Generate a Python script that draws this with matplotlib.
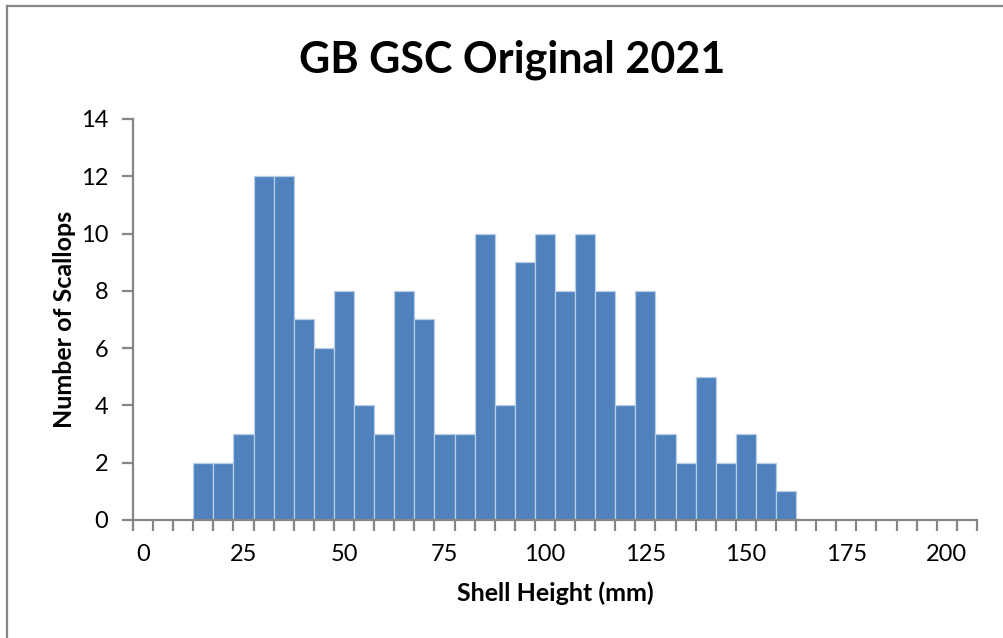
import numpy as np
import matplotlib
matplotlib.use('Agg')
import matplotlib.pyplot as plt
from matplotlib.lines import Line2D

## __DATA__________________________
shell_height = [15, 20, 25, 30, 35, 40, 45, 50, 55, 60, 65, 70, 75, 80, 85,
                90, 95, 100, 105, 110, 115, 120, 125, 130, 135, 140, 145, 150, 155, 160]
n_scallops = [2, 2, 3, 12, 12, 7, 6, 8, 4, 3, 8, 7, 3, 3, 10,
              4, 9, 10, 8, 10, 8, 4, 8, 3, 2, 5, 2, 3, 2, 1]
xtick_labels = [0, 25, 50, 75, 100, 125, 150, 175, 200]
ytick_labels = [0, 2, 4, 6, 8, 10, 12, 14]

plt.rcParams['font.family'] = ['Lato', 'DejaVu Sans']
axis_gray = '#868686'

fig = plt.figure(figsize=(10.04, 6.38), dpi=100)
ax = fig.add_axes([0.1325, 0.185, 0.8405, 0.6285])

ax.bar(shell_height, n_scallops, width=5, color='#4F81BD',
       edgecolor='#B9CDE5', linewidth=0.9)

ax.set_xlim(-2.5, 207.5)
ax.set_ylim(0, 14)

# major ticks: labels only, minor ticks: category borders
ax.set_xticks(xtick_labels)
ax.set_xticklabels([str(v) for v in xtick_labels])
ax.tick_params(axis='x', which='major', length=0, pad=17, labelsize=17)
ax.set_xticks(np.arange(-2.5, 208, 5), minor=True)
ax.tick_params(axis='x', which='minor', length=8, width=1.6, color=axis_gray, direction='out')

ax.set_yticks(ytick_labels)
ax.tick_params(axis='y', length=8, width=1.6, color=axis_gray, direction='out', pad=10, labelsize=17)

for s in ['top', 'right']:
    ax.spines[s].set_visible(False)
for s in ['left', 'bottom']:
    ax.spines[s].set_color(axis_gray)
    ax.spines[s].set_linewidth(1.6)

ax.set_xlabel('Shell Height (mm)', fontsize=18, fontweight='bold', labelpad=12)
ax.set_ylabel('Number of Scallops', fontsize=18, fontweight='bold', labelpad=3)
fig.text(0.51, 0.906, 'GB GSC Original 2021', ha='center', va='center',
         fontsize=31, fontweight='bold')

# chart area border (left and top visible)
fig.add_artist(Line2D([0.007, 0.007], [0, 0.991], transform=fig.transFigure, color=axis_gray, lw=1.6))
fig.add_artist(Line2D([0.007, 1.0], [0.991, 0.991], transform=fig.transFigure, color=axis_gray, lw=1.6))

fig.savefig('out.png', dpi=100)
